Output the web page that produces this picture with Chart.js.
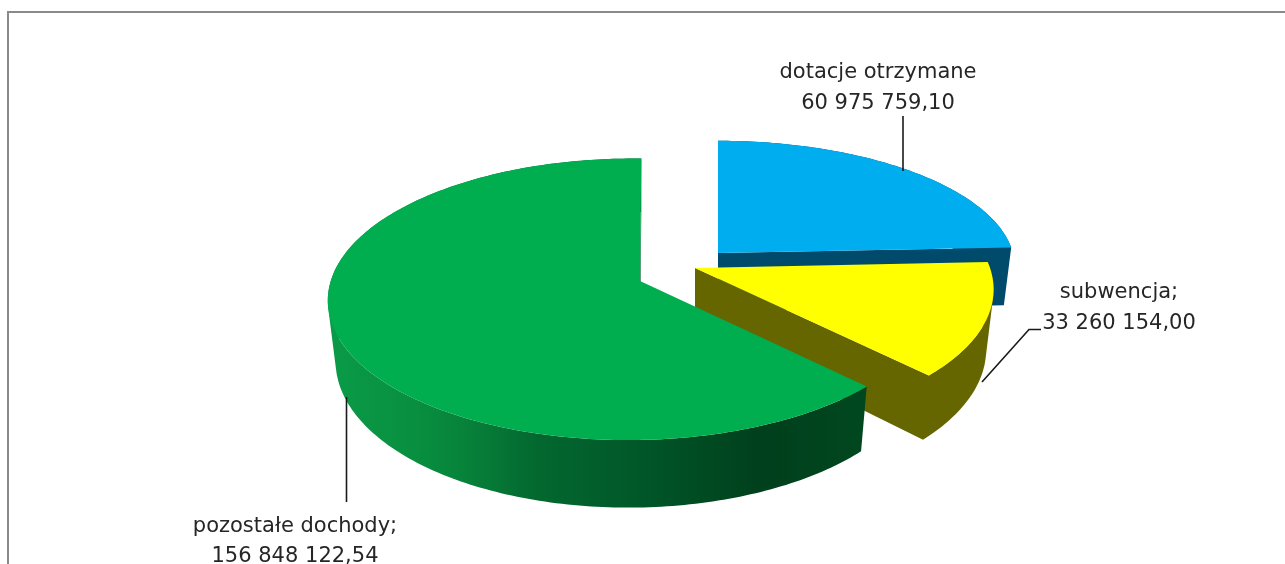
<!DOCTYPE html>
<html lang="pl">
<head>
<meta charset="utf-8">
<style>html,body{margin:0;padding:0;background:#fff}canvas{display:block;filter:blur(0.45px)}</style>
<script src="https://cdn.jsdelivr.net/npm/chart.js@4"></script>
</head>
<body>
<canvas id="c" width="1285" height="564"></canvas>
<script>
const categories = ['dotacje otrzymane', 'subwencja', 'pozostałe dochody'];
const seriesValues = [60975759.10, 33260154.00, 156848122.54];
const labelNames = ['dotacje otrzymane', 'subwencja;', 'pozostałe dochody;'];
const valueTexts = ['60 975 759,10', '33 260 154,00', '156 848 122,54'];
const topColors = ['#00aeef', '#ffff00', '#00ad4f'];
const wallColors = ['#004a6b', '#666600', null];

// Oblique projection of each exploded slice onto the page
const projections = [
  {ax: 718, ay: 253, rx: 295, ry: 125, c: 0.114, d: 0, s: 0},
  {ax: 695, ay: 268, rx: 295, ry: 135, c: 0.155, d: 0, s: 0},
  {ax: 640, ay: 281, rx: 300, ry: 138.3, c: 0.13, d: -0.03, s: -1.5}
];
const labelBoxes = [
  {x: 878, y1: 78, y2: 109, leader: [[903, 116], [903, 171]]},
  {x: 1119, y1: 298, y2: 329, leader: [[1041, 329.5], [1029, 329.5], [982, 382]]},
  {x: 295, y1: 532, y2: 562, leader: [[346.5, 397], [346.5, 502]]}
];

function topPoint(p, a) {
  const u = Math.sin(a), v = -Math.cos(a);
  const w = 1 - p.c * v - p.d * u;
  return [p.ax + (p.rx * u + p.s * v) / w, p.ay + p.ry * v / w];
}
function lowPoint(p, pt) {
  return [p.ax + (pt[0] - p.ax) * 0.975, pt[1] + 58 + 0.05 * (pt[1] - 249)];
}
function addPoly(ctx, pts) {
  pts.forEach((q, i) => i ? ctx.lineTo(q[0], q[1]) : ctx.moveTo(q[0], q[1]));
  ctx.closePath();
}
function orient(pts) {
  let area = 0;
  pts.forEach((q, i) => {
    const r = pts[(i + 1) % pts.length];
    area += q[0] * r[1] - r[0] * q[1];
  });
  return area < 0 ? pts.slice().reverse() : pts;
}

const pie3d = {
  id: 'pie3d',
  beforeDatasetsDraw(chart) {
    const ctx = chart.ctx;
    const arcs = chart.getDatasetMeta(0).data;
    ctx.save();
    // outer frame
    ctx.strokeStyle = '#8a8a8a';
    ctx.lineWidth = 2;
    ctx.beginPath();
    ctx.moveTo(8, 570); ctx.lineTo(8, 12); ctx.lineTo(1290, 12);
    ctx.stroke();

    const wallGrad = ctx.createLinearGradient(335, 0, 865, 0);
    [[335, '#0a9a47'], [416, '#088f3f'], [468, '#07813a'], [537, '#03682f'],
     [623, '#015a2a'], [675, '#005025'], [761, '#00401c'], [865, '#00471f']]
      .forEach(s => wallGrad.addColorStop((s[0] - 335) / 530, s[1]));

    arcs.forEach((arc, i) => {
      const p = projections[i];
      const a0 = arc.startAngle + Math.PI / 2, a1 = arc.endAngle + Math.PI / 2;
      const rim = [];
      const n = Math.ceil((a1 - a0) / (Math.PI / 180));
      for (let k = 0; k <= n; k++) rim.push(topPoint(p, a0 + (a1 - a0) * k / n));
      const apex = [p.ax, p.ay];
      // walls: curved band and the closing cut face, wound alike so they merge without seams
      ctx.beginPath();
      for (let k = 0; k < n; k++) {
        addPoly(ctx, orient([rim[k], rim[k + 1], lowPoint(p, rim[k + 1]), lowPoint(p, rim[k])]));
      }
      const last = rim[n];
      addPoly(ctx, orient([apex, last, lowPoint(p, last), lowPoint(p, apex)]));
      ctx.fillStyle = wallColors[i] || wallGrad;
      ctx.fill('nonzero');
      // top face
      ctx.beginPath();
      addPoly(ctx, [apex, ...rim]);
      ctx.fillStyle = topColors[i];
      ctx.fill();
    });

    // data labels and leader lines
    ctx.lineWidth = 1.6;
    ctx.strokeStyle = '#1a1a1a';
    ctx.fillStyle = '#262626';
    ctx.font = '21px "DejaVu Sans", sans-serif';
    ctx.textAlign = 'center';
    labelBoxes.forEach((b, i) => {
      ctx.beginPath();
      b.leader.forEach((q, k) => k ? ctx.lineTo(q[0], q[1]) : ctx.moveTo(q[0], q[1]));
      ctx.stroke();
      ctx.fillText(labelNames[i], b.x, b.y1);
      ctx.fillText(valueTexts[i], b.x, b.y2);
    });
    ctx.restore();
    return false;
  }
};

new Chart(document.getElementById('c'), {
  type: 'pie',
  data: {
    labels: categories,
    datasets: [{data: seriesValues, backgroundColor: topColors, borderWidth: 0}]
  },
  options: {
    responsive: false,
    animation: false,
    plugins: {legend: {display: false}, tooltip: {enabled: false}, title: {display: false}}
  },
  plugins: [pie3d]
});
</script>
</body>
</html>
